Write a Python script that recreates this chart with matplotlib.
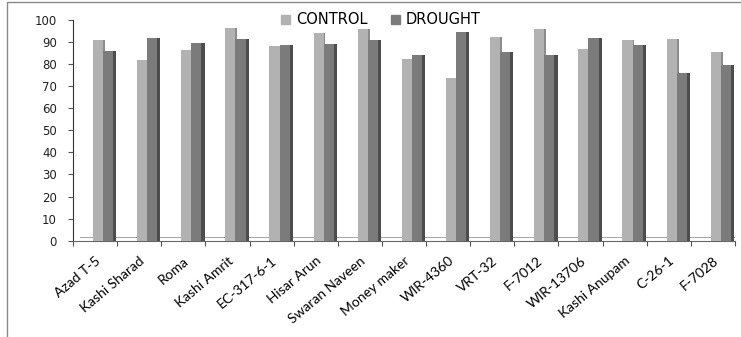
import numpy as np
import matplotlib
matplotlib.use("Agg")
import matplotlib.pyplot as plt
from matplotlib.patches import Rectangle, Patch

# ---- DATA ----
varieties = ["Azad T-5", "Kashi Sharad", "Roma", "Kashi Amrit", "EC-317-6-1",
             "Hisar Arun", "Swaran Naveen", "Money maker", "WIR-4360", "VRT-32",
             "F-7012", "WIR-13706", "Kashi Anupam", "C-26-1", "F-7028"]
control = [91, 82, 86.5, 96.5, 88, 94, 96, 82.5, 73.5, 92.5, 96, 87, 91, 91.5, 85.5]
drought = [86, 92, 89.5, 91.5, 88.5, 89, 91, 84, 94.5, 85.5, 84, 92, 88.5, 76, 79.5]
yticks = list(range(0, 101, 10))

C_LIGHT = "#b2b2b2"
C_DARK = "#7b7b7b"
C_SIDE = "#4d4d4d"

fig = plt.figure(figsize=(7.41, 3.37), dpi=100)
ax = fig.add_axes([73 / 741, 1 - 240.7 / 337, 662 / 741, 220.7 / 337])

x = np.arange(len(varieties))
w = 0.23
ax.bar(x + 0.45 + w / 2, control, width=w, color=C_LIGHT, edgecolor="none", zorder=3)
ax.bar(x + 0.45 + w * 1.5, drought, width=w, color=C_DARK, edgecolor="none", zorder=3)
# fake 3D side faces
ax.bar(x + 0.45 + 2 * w + 0.035, drought, width=0.07, color=C_SIDE, edgecolor="none", zorder=2)
ax.bar(x + 0.45 + w + 0.02, control, width=0.04, color="#8c8c8c", edgecolor="none", zorder=2)

ax.set_xlim(0, len(varieties))
ax.set_ylim(0, 100)
ax.set_yticks(yticks)
ax.set_yticklabels([str(t) for t in yticks], fontsize=8.5, family="DejaVu Sans")
ax.tick_params(axis="y", length=3.6, width=0.8, pad=8, color="#555555", labelcolor="#222222")

ax.set_xticks(np.arange(len(varieties) + 1))
ax.set_xticklabels([])
ax.set_xticks(x + 0.5, minor=True)
ax.set_xticklabels(varieties, minor=True, rotation=40, ha="right", va="top",
                   rotation_mode="anchor", fontsize=10, family="Lato")
ax.tick_params(axis="x", which="major", length=3.5, width=0.8, color="#555555")
ax.tick_params(axis="x", which="minor", length=0, pad=10)

for s in ["top", "right"]:
    ax.spines[s].set_visible(False)
ax.spines["left"].set_color("#333333")
ax.spines["bottom"].set_color("#666666")
# floor back edge
ax.axhline(1.8, xmin=0.01, xmax=1.0, color="#aaaaaa", lw=0.8, zorder=1)

handles = [Patch(color=C_LIGHT, label="CONTROL"), Patch(color=C_DARK, label="DROUGHT")]
fig.legend(handles=handles, loc="center", bbox_to_anchor=(0.514, 1 - 20 / 337), ncol=2,
           frameon=False, handlelength=0.6, handleheight=0.6,
           handletextpad=0.4, columnspacing=1.6, prop={"family": "DejaVu Sans", "size": 10.5})

# chart frame (cropped: left and top edge only)
fig.patches.append(Rectangle((7 / 741, -0.2), 1.2, 1.2 - 2 / 337, transform=fig.transFigure,
                             fill=False, edgecolor="#8a8a8a", lw=1.0))

fig.savefig("out.png", dpi=100)
